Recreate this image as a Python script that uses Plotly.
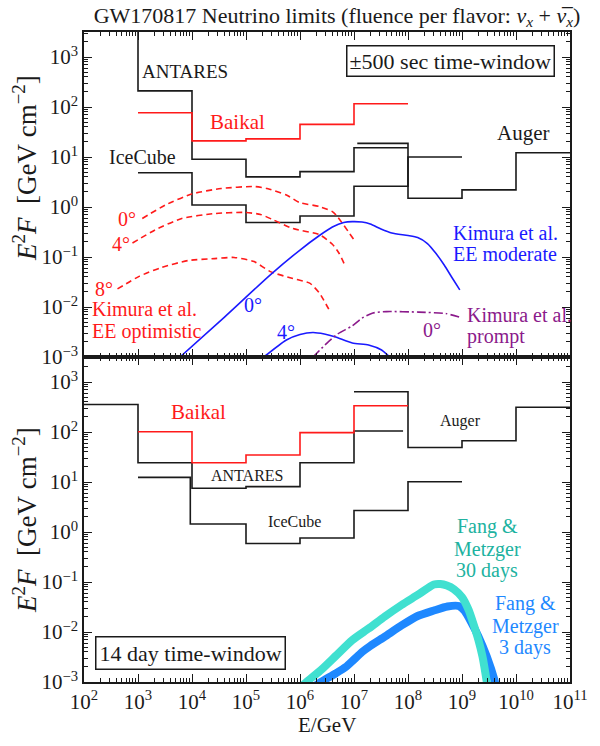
import plotly.graph_objects as go

# ---------------- data ----------------
# top panel: +-500 s time window, step limits (bin edges in GeV, E^2F in GeV/cm^2)
antares_top_edges = [1e2, 1e3, 1e4, 1e5, 1e6, 1e7, 1e8]
antares_top_vals = [1e4, 210, 9.0, 4.0, 5.1, 15.3]
icecube_top_edges = [1e3, 1e4, 1e5, 1e6, 1e7, 1e8, 1e9]
icecube_top_vals = [4.85, 1.1, 0.49, 0.66, 2.6, 10.0]
baikal_top_edges = [1e3, 1e4, 1e5, 1e6, 1e7, 1e8]
baikal_top_vals = [77, 21, 23, 45, 116]
auger_top_edges = [1.15e7, 1e8, 1e9, 1e10, 1e11]
auger_top_vals = [18.7, 1.5, 2.2, 12.2]

# Kimura et al. EE optimistic (red dashed)
opt0_E = [1.2e3, 3.24e3, 9.8e3, 3.47e4, 1.41e5, 2.45e5, 5.6e5, 9.8e5, 2.29e6, 3.98e6, 4.9e6, 1.0e7]
opt0_F = [0.59, 1.10, 1.82, 2.34, 2.57, 2.34, 1.74, 1.23, 1.02, 0.81, 0.65, 0.22]
opt4_E = [7.9e2, 2.09e3, 6.46e3, 2.63e4, 9.1e4, 1.86e5, 3.24e5, 7.4e5, 2.29e6, 3.98e6, 5.25e6, 6.76e6]
opt4_F = [0.19, 0.35, 0.59, 0.74, 0.78, 0.71, 0.55, 0.37, 0.28, 0.18, 0.12, 0.069]
opt8_E = [4.17e2, 1.05e3, 2.75e3, 8.5e3, 2.63e4, 6.0e4, 1.41e5, 2.82e5, 7.4e5, 1.51e6, 2.29e6, 3.47e6]
opt8_F = [0.023, 0.041, 0.062, 0.085, 0.093, 0.098, 0.081, 0.051, 0.037, 0.030, 0.019, 0.0087]

# Kimura et al. EE moderate (blue solid)
mod0_E = [6.0e3, 4.0e4, 2.82e5, 1.0e6, 2.29e6, 3.98e6, 6.46e6, 9.3e6, 1.41e7, 2.0e7, 3.16e7,
          5.0e7, 1.0e8, 1.51e8, 2.29e8, 3.31e8, 4.68e8, 6.6e8, 9.1e8]
mod0_F = [1.0e-3, 6.3e-3, 0.044, 0.138, 0.269, 0.398, 0.49, 0.51, 0.50, 0.457, 0.363,
          0.302, 0.269, 0.245, 0.186, 0.117, 0.069, 0.038, 0.022]
mod4_E = [2.14e5, 5.6e5, 1.0e6, 1.74e6, 2.82e6, 4.57e6, 9.3e6, 1.86e7, 3.24e7, 4.57e7]
mod4_F = [1.0e-3, 2.19e-3, 2.82e-3, 3.09e-3, 2.88e-3, 2.51e-3, 1.91e-3, 1.74e-3, 1.38e-3, 1.0e-3]

# Kimura et al. prompt (purple dash-dot)
prompt_E = [1.74e6, 3.16e6, 5.0e6, 9.3e6, 1.41e7, 2.24e7, 3.98e7, 1.58e8, 5.0e8, 9.3e8]
prompt_F = [1.0e-3, 1.9e-3, 2.9e-3, 4.2e-3, 6.0e-3, 7.6e-3, 8.1e-3, 7.9e-3, 7.4e-3, 6.2e-3]

# bottom panel: 14 day time window
antares_bot_edges = [1e2, 1e3, 1e4, 1e5, 1e6, 1e7, 8.1e7]
antares_bot_vals = [355, 24.3, 7.5, 8.1, 24.3, 105]
baikal_bot_edges = [1e3, 1e4, 1e5, 1e6, 1e7, 1e8]
baikal_bot_vals = [101, 24.3, 34.7, 97, 336]
icecube_bot_edges = [1e3, 9.3e3, 1e5, 1e6, 1e7, 1e8, 1e9]
icecube_bot_vals = [12.4, 1.45, 0.59, 0.76, 2.7, 10.1]
auger_bot_edges = [1e7, 1e8, 1e9, 1e10, 1e11]
auger_bot_vals = [640, 49, 67, 312]

# Fang & Metzger
fm30_E = [1.0e6, 1.32e6, 2.51e6, 4.57e6, 9.3e6, 1.86e7, 3.72e7, 7.6e7, 1.51e8, 3.02e8, 3.98e8,
          5.25e8, 7.08e8, 1.0e9, 1.32e9, 1.62e9, 2.0e9, 2.4e9, 2.88e9, 3.16e9]
fm30_F = [7.6e-4, 1.0e-3, 1.78e-3, 3.31e-3, 6.9e-3, 0.0117, 0.0204, 0.0347, 0.055, 0.089, 0.091,
          0.085, 0.072, 0.050, 0.028, 0.0148, 0.0071, 0.0032, 1.0e-3, 5e-4]
fm3_E = [1.78e6, 2.45e6, 4.57e6, 7.08e6, 1.0e7, 1.41e7, 2.0e7, 3.72e7, 7.6e7, 1.51e8, 3.02e8,
         5.37e8, 8.7e8, 1.12e9, 1.51e9, 2.0e9, 2.88e9, 3.98e9, 4.47e9]
fm3_F = [7.9e-4, 1.0e-3, 1.48e-3, 2.0e-3, 2.82e-3, 3.98e-3, 5.25e-3, 8.1e-3, 0.0135, 0.0209, 0.0269,
         0.0324, 0.0331, 0.0263, 0.0151, 0.0083, 0.0032, 1.1e-3, 6.3e-4]

# tick labels
x_tickvals = [1e2, 1e3, 1e4, 1e5, 1e6, 1e7, 1e8, 1e9, 1e10, 1e11]
x_ticktext = ["10<sup>2</sup>", "10<sup>3</sup>", "10<sup>4</sup>", "10<sup>5</sup>", "10<sup>6</sup>",
              "10<sup>7</sup>", "10<sup>8</sup>", "10<sup>9</sup>", "10<sup>10</sup>", "10<sup>11</sup>"]
y_tickvals = [1e-3, 1e-2, 1e-1, 1e0, 1e1, 1e2, 1e3]
y_ticktext = ["10<sup>−3</sup>", "10<sup>−2</sup>", "10<sup>−1</sup>", "10<sup>0</sup>",
              "10<sup>1</sup>", "10<sup>2</sup>", "10<sup>3</sup>"]

# ---------------- figure ----------------
FONT = "Liberation Serif"
BLACK = "#1a1a1a"
RED = "#ff1a1a"
BLUE = "#1a1aff"
PURPLE = "#8b1a8b"
TURQ = "#40e0d0"
DBLUE = "#1e88ff"

fig = go.Figure()


def step(edges, vals, color, xa, ya, width=1.6):
    fig.add_trace(go.Scatter(x=edges, y=list(vals) + [vals[-1]], mode="lines", line_shape="hv",
                             line=dict(color=color, width=width), xaxis=xa, yaxis=ya,
                             showlegend=False, hoverinfo="skip"))


def curve(E, F, color, xa, ya, width=1.6, dash="solid"):
    fig.add_trace(go.Scatter(x=E, y=F, mode="lines", line=dict(color=color, width=width, dash=dash,
                                                               shape="spline", smoothing=0.6),
                             xaxis=xa, yaxis=ya, showlegend=False, hoverinfo="skip"))


# top panel
step(antares_top_edges, antares_top_vals, BLACK, "x", "y")
step(icecube_top_edges, icecube_top_vals, BLACK, "x", "y")
step(auger_top_edges, auger_top_vals, BLACK, "x", "y")
step(baikal_top_edges, baikal_top_vals, RED, "x", "y")
for E, F in [(opt0_E, opt0_F), (opt4_E, opt4_F), (opt8_E, opt8_F)]:
    curve(E, F, RED, "x", "y", dash="6px,4px")
curve(mod0_E, mod0_F, BLUE, "x", "y")
curve(mod4_E, mod4_F, BLUE, "x", "y")
curve(prompt_E, prompt_F, PURPLE, "x", "y", dash="9px,3px,2px,3px")

# bottom panel
step(antares_bot_edges, antares_bot_vals, BLACK, "x2", "y2")
step(icecube_bot_edges, icecube_bot_vals, BLACK, "x2", "y2")
step(auger_bot_edges, auger_bot_vals, BLACK, "x2", "y2")
step(baikal_bot_edges, baikal_bot_vals, RED, "x2", "y2")
curve(fm3_E, fm3_F, DBLUE, "x2", "y2", width=8)
curve(fm30_E, fm30_F, TURQ, "x2", "y2", width=8)

# axes
L, R, T, B, W, H = 84, 22, 32, 64, 600, 746
PW, PH = W - L - R, H - T - B

minor_x = [k * 10 ** n for n in range(2, 11) for k in range(2, 10)]
minor_y = [k * 10.0 ** n for n in range(-3, 4) for k in range(2, 10)]

axis_common = dict(type="log", showline=True, linecolor=BLACK, linewidth=1.5, mirror="allticks",
                   ticks="inside", ticklen=8, tickwidth=1.2, tickcolor=BLACK, showgrid=False,
                   zeroline=False, tickfont=dict(family=FONT, size=21, color=BLACK),
                   minor=dict(ticks="inside", ticklen=4, tickwidth=1, tickcolor=BLACK, showgrid=False))

xa = dict(axis_common, range=[2, 11], tickmode="array", tickvals=x_tickvals, ticktext=x_ticktext)
xa["minor"] = dict(axis_common["minor"], tickmode="array", tickvals=minor_x)
ya = dict(axis_common, range=[-3, 3.5], tickmode="array", tickvals=y_tickvals, ticktext=y_ticktext)
ya["minor"] = dict(axis_common["minor"], tickmode="array", tickvals=minor_y)

fig.update_layout(
    xaxis=dict(xa, anchor="y", domain=[0, 1], showticklabels=False),
    yaxis=dict(ya, anchor="x", domain=[0.5, 1]),
    xaxis2=dict(xa, anchor="y2", domain=[0, 1]),
    yaxis2=dict(ya, anchor="x2", domain=[0, 0.5]),
    width=W, height=H, margin=dict(l=L, r=R, t=T, b=B),
    plot_bgcolor="white", paper_bgcolor="white",
    title=dict(text="GW170817 Neutrino limits (fluence per flavor: <i>ν<sub>x</sub></i> + <i>ν̅<sub>x</sub></i>)",
               x=337 / W, xanchor="center", y=1 - 15 / H, yanchor="middle",
               font=dict(family=FONT, size=22, color=BLACK)),
)


def px(x):
    return (x - L) / PW


def py(y):
    return (H - B - y) / PH


def label(text, x, y, color=BLACK, size=20, anchor="center", **kw):
    fig.add_annotation(text=text, x=px(x), y=py(y), xref="paper", yref="paper", showarrow=False,
                       xanchor=anchor, yanchor="middle", font=dict(family=FONT, size=size, color=color), **kw)


# top panel labels
label("ANTARES", 186.7, 71.7, size=19)
label("Baikal", 240, 121.7, RED, size=21)
label("IceCube", 143.3, 156.7, size=20)
label("Auger", 530, 133.3, size=21)
label("±500 sec time-window", 456.7, 60.5, size=22, bordercolor=BLACK, borderwidth=1.5, borderpad=2,
      bgcolor="white")
label("0°", 127.5, 219, RED)
label("4°", 121.7, 244, RED)
label("8°", 104, 289, RED)
label("Kimura et al.", 90, 309, RED, anchor="left")
label("EE optimistic", 90, 331.7, RED, anchor="left")
label("0°", 255.7, 305, BLUE)
label("4°", 289, 331.7, BLUE)
label("Kimura et al.", 456.7, 232.5, BLUE, anchor="left")
label("EE moderate", 456.7, 254, BLUE, anchor="left")
label("Kimura et al.", 471.7, 315, PURPLE, anchor="left")
label("prompt", 471.7, 336.7, PURPLE, anchor="left")
label("0°", 438, 330, PURPLE)

# bottom panel labels
label("Baikal", 200.5, 411.7, RED, size=21)
label("ANTARES", 250, 475, size=16)
label("IceCube", 298, 521.7, size=16)
label("Auger", 466.3, 420.7, size=16)
label("14 day time-window", 192.5, 653, size=22, bordercolor=BLACK, borderwidth=1.5, borderpad=3,
      bgcolor="white")
label("Fang &amp;", 494, 526.7, "#20b2a0")
label("Metzger", 494, 549, "#20b2a0")
label("30 days", 494, 570.8, "#20b2a0")
label("Fang &amp;", 532.5, 603.3, DBLUE)
label("Metzger", 532.5, 626, DBLUE)
label("3 days", 532.5, 647.5, DBLUE)

# axis titles
ytitle = "<i>E</i><sup>2</sup><i>F</i>\u00a0\u00a0[GeV\u00a0cm<sup>−2</sup>]"
label(ytitle, 24, 168, size=27, textangle=-90)
label(ytitle, 24, 520, size=27, textangle=-90)
label("E/GeV", 331, 725, size=21)

# remove the default 8px page margin so the figure sits at the window origin
fig.write_html("out.html", config={"displayModeBar": False},
               post_script="document.body.style.margin='0';")
